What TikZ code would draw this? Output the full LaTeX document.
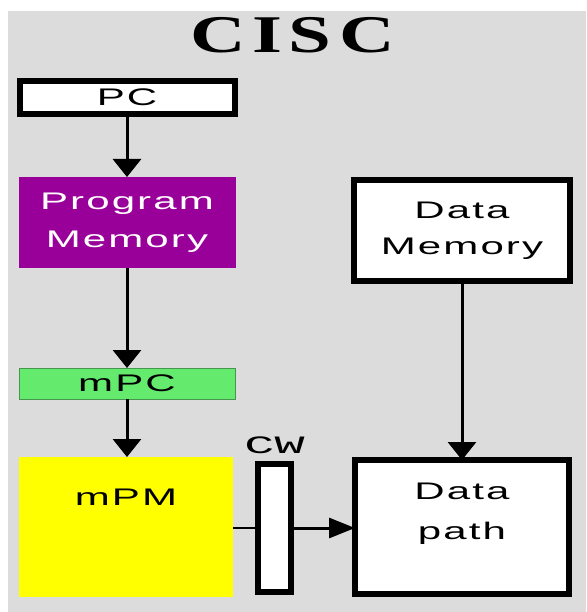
\documentclass[tikz,border=0pt]{standalone}
\usepackage{fontspec}
\usepackage{graphicx}
\setmainfont{Liberation Sans}
\newfontfamily\titlefont[LetterSpace=8]{Liberation Serif}
\newfontfamily\boxfont[LetterSpace=5]{Liberation Sans}
\newfontfamily\cwfont{Liberation Mono}
\usetikzlibrary{arrows.meta}
\newcommand\wide[1]{\scalebox{1.75}[1]{#1}}
\definecolor{bggray}{RGB}{220,220,220}
\definecolor{pmpurple}{RGB}{153,0,153}
\definecolor{mpcgreen}{RGB}{100,235,110}
\definecolor{mpcedge}{RGB}{70,150,80}
\definecolor{mpmyellow}{RGB}{255,255,0}
\begin{document}
\begin{tikzpicture}[x=1pt,y=-1pt,
  box/.style={rectangle, inner sep=0pt, outer sep=0pt},
  blackbox/.style={box, draw=black, line width=6pt, fill=white},
  boxtext/.style={font=\boxfont\fontsize{24}{38}\selectfont, align=center},
  varr/.style={draw=black, line width=3pt, -{Triangle[width=28pt,length=18pt]}},
  harr/.style={draw=black, line width=3pt, -{Triangle[width=20pt,length=26pt]}},
  plainline/.style={draw=black, line width=2.5pt}
]
\useasboundingbox (0,0) rectangle (586,612);
\fill[bggray] (8,11) rectangle (586,612);

\node[inner sep=0pt] (title) at (293,35.5)
  {\titlefont\bfseries\fontsize{53}{53}\selectfont\scalebox{1.45}[1]{CIS\hspace{6pt}C}};

\node[blackbox, boxtext, minimum width=215pt, minimum height=33pt] (pc) at (127,97.5) {\wide{PC}};

\node[box, boxtext, fill=pmpurple, text=white, minimum width=217pt, minimum height=91pt] (pm) at (127,222.5)
  {\wide{Program}\\\wide{Memory}};

\node[box, boxtext, fill=mpcgreen, draw=mpcedge, line width=1pt, minimum width=216pt, minimum height=31pt] (mpc) at (127,383.5) {\wide{mPC}};

\node[box, fill=mpmyellow, minimum width=214pt, minimum height=140pt] (mpm) at (126,527)
  {\raisebox{22pt}[0pt][0pt]{\boxfont\fontsize{24}{38}\selectfont\wide{mPM}}};

\node[blackbox, minimum width=33pt, minimum height=128pt,
  label={[inner sep=0pt, label distance=10pt, font=\cwfont\fontsize{25}{25}\selectfont]above:\scalebox{2.0}[1]{CW}}] (cw) at (274.5,528) {};

\node[blackbox, boxtext, font=\boxfont\fontsize{24}{36}\selectfont, minimum width=216pt, minimum height=101pt] (dm) at (462,230.5)
  {\wide{Data}\\\wide{Memory}};

\node[blackbox, minimum width=214pt, minimum height=134pt] (dp) at (462,527)
  {\raisebox{9pt}[0pt][0pt]{\boxfont\fontsize{24}{40}\selectfont\renewcommand\arraystretch{1}%
   \begin{tabular}{@{}c@{}}\wide{Data}\\\wide{path}\end{tabular}}};

\draw[varr] (pc) -- (pm);
\draw[varr] (pm) -- (mpc);
\draw[varr] (mpc.south) -- (mpc.south |- mpm.north);
\draw[varr] (dm) -- (dp);
\draw[plainline] (mpm.east |- cw.west) -- (cw.west);
\draw[harr] (cw.east) -- (dp.west |- cw.east);
\end{tikzpicture}
\end{document}
